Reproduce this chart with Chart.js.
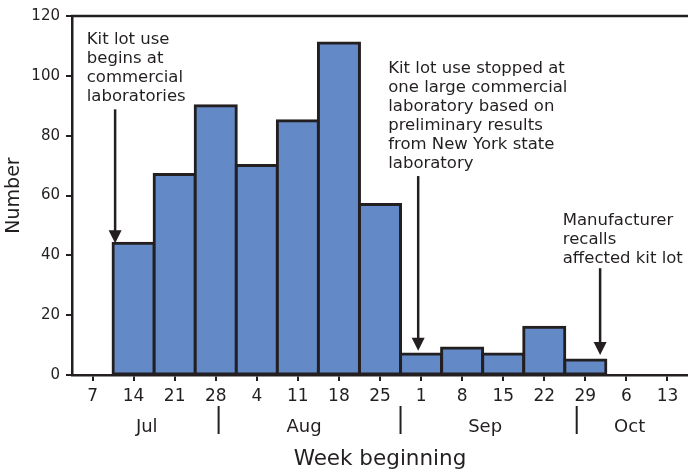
<!DOCTYPE html>
<html>
<head>
<meta charset="utf-8">
<script src="https://cdn.jsdelivr.net/npm/chart.js@4.4.1/dist/chart.umd.min.js"></script>
<style>
  html, body { margin: 0; padding: 0; background: #fff; }
</style>
</head>
<body>
<canvas id="chart" width="688" height="470"></canvas>
<script>
// week beginning (day of month) and number of reports
var weeks = ['7', '14', '21', '28', '4', '11', '18', '25', '1', '8', '15', '22', '29', '6', '13'];
var counts = [0, 44, 67, 90, 70, 85, 111, 57, 7, 9, 7, 16, 5, 0, 0];
var yTicks = [0, 20, 40, 60, 80, 100, 120];

var months = ['Jul', 'Aug', 'Sep', 'Oct'];
// month boundaries, in week slots (Aug 1 is 4 days into the week of Jul 28, etc)
var monthBreaks = [3.07, 7.5, 11.79];
var monthMid = [1.32, 5.15, 9.56, 13.08];

var noteText = [
    ['Kit lot use', 'begins at', 'commercial', 'laboratories'],
    ['Kit lot use stopped at', 'one large commercial', 'laboratory based on', 'preliminary results', 'from New York state', 'laboratory'],
    ['Manufacturer', 'recalls', 'affected kit lot']
];
// note anchors in data units (x = week slot, y = count)
var notePlace = [
    { x: -0.14, y: 110.8, arrowAt: 0.55, arrowFrom: 88.8, arrowTo: 44 },
    { x: 7.2, y: 101, arrowAt: 7.93, arrowFrom: 66.5, arrowTo: 8.1 },
    { x: 11.45, y: 50.1, arrowAt: 12.36, arrowFrom: 35.7, arrowTo: 6.7 }
];

var ink = '#231f20';
var font = "'DejaVu Sans', sans-serif";

var extras = {
    id: 'extras',
    afterDraw: function (chart) {
        var ctx = chart.ctx;
        var x = chart.scales.x;
        var y = chart.scales.y;
        var area = chart.chartArea;

        ctx.save();
        ctx.strokeStyle = ink;
        ctx.fillStyle = ink;
        ctx.lineWidth = 2.5;

        // top frame line
        ctx.beginPath();
        ctx.moveTo(area.left - 1, area.top);
        ctx.lineTo(area.right, area.top);
        ctx.stroke();

        // notes and arrows
        ctx.font = '16.5px ' + font;
        ctx.textAlign = 'left';
        ctx.textBaseline = 'alphabetic';
        for (var i = 0; i < noteText.length; i++) {
            var p = notePlace[i];
            var tx = x.getPixelForValue(p.x);
            var ty = y.getPixelForValue(p.y);
            for (var j = 0; j < noteText[i].length; j++) {
                ctx.fillText(noteText[i][j], tx, ty + j * 19);
            }
            var ax = x.getPixelForValue(p.arrowAt);
            var a0 = y.getPixelForValue(p.arrowFrom);
            var a1 = y.getPixelForValue(p.arrowTo);
            ctx.beginPath();
            ctx.moveTo(ax, a0);
            ctx.lineTo(ax, a1 - 10);
            ctx.stroke();
            ctx.beginPath();
            ctx.moveTo(ax - 6.5, a1 - 13);
            ctx.lineTo(ax + 6.5, a1 - 13);
            ctx.lineTo(ax, a1);
            ctx.closePath();
            ctx.fill();
        }

        // month separators and labels
        ctx.lineWidth = 2;
        for (var k = 0; k < monthBreaks.length; k++) {
            var bx = x.getPixelForValue(monthBreaks[k]);
            ctx.beginPath();
            ctx.moveTo(bx, x.top + 31);
            ctx.lineTo(bx, x.top + 59);
            ctx.stroke();
        }
        ctx.font = '18px ' + font;
        ctx.textAlign = 'center';
        for (var m = 0; m < months.length; m++) {
            ctx.fillText(months[m], x.getPixelForValue(monthMid[m]), x.top + 56.5);
        }
        ctx.restore();
    }
};

var ctx = document.getElementById('chart').getContext('2d');
new Chart(ctx, {
    type: 'bar',
    data: {
        labels: weeks,
        datasets: [{
            data: counts,
            backgroundColor: '#6389c6',
            borderColor: ink,
            borderWidth: 3,
            borderSkipped: false,
            inflateAmount: 1.5,
            barPercentage: 1,
            categoryPercentage: 1
        }]
    },
    options: {
        responsive: false,
        animation: false,
        layout: { padding: { top: 16, right: 0, bottom: 0, left: 0 } },
        plugins: {
            legend: { display: false },
            tooltip: { enabled: false }
        },
        scales: {
            x: {
                offset: true,
                afterFit: function (s) { s.height = 95; },
                grid: { offset: false, drawOnChartArea: false, drawTicks: true, tickLength: 6, lineWidth: 2, color: ink },
                border: { display: true, color: ink, width: 2.5 },
                ticks: { color: ink, font: { family: font, size: 17 }, padding: 5, maxRotation: 0, autoSkip: false },
                title: { display: true, text: 'Week beginning', color: ink, font: { family: font, size: 21.5 }, padding: { top: 0, bottom: -2 } }
            },
            y: {
                min: 0,
                max: 120,
                afterFit: function (s) { s.width = 72; },
                afterBuildTicks: function (s) { s.ticks = yTicks.map(function (v) { return { value: v }; }); },
                grid: { drawOnChartArea: false, drawTicks: true, tickLength: 6, lineWidth: 2, color: ink },
                border: { display: true, color: ink, width: 2.5 },
                ticks: { color: ink, font: { family: font, size: 15 }, padding: 6 },
                title: { display: true, text: 'Number', color: ink, font: { family: font, size: 19 }, padding: { top: 3, bottom: 0 } }
            }
        }
    },
    plugins: [extras]
});
</script>
</body>
</html>
